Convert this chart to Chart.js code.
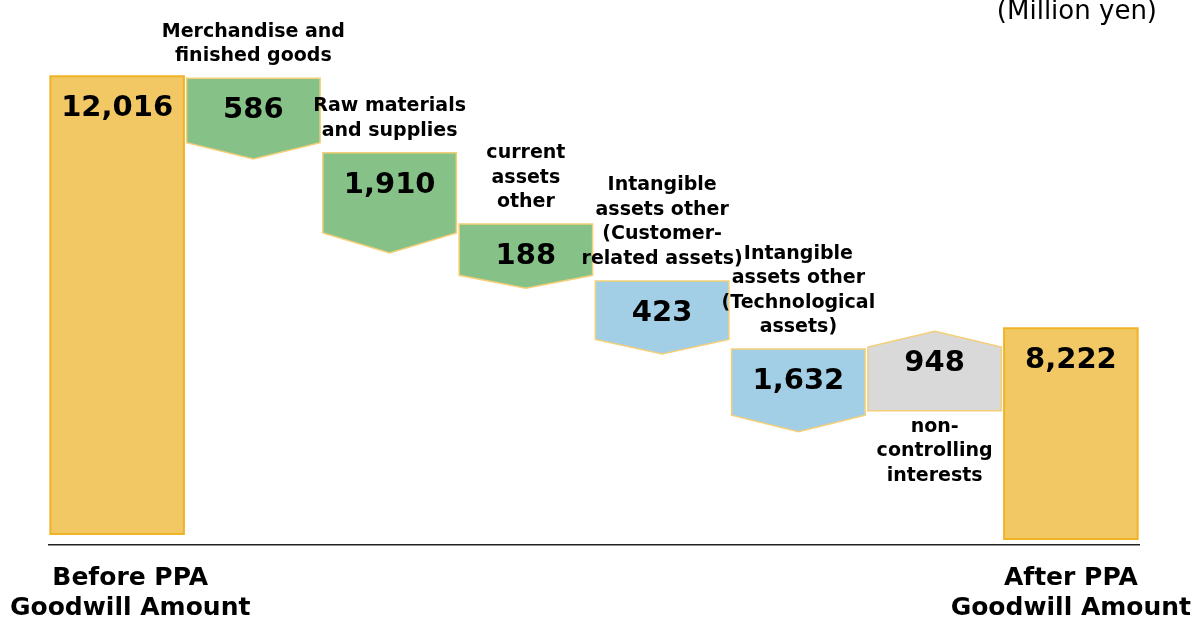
<!DOCTYPE html>
<html>
<head>
<meta charset="utf-8">
<script src="https://cdn.jsdelivr.net/npm/chart.js@4"></script>
<style>
  html, body { margin: 0; padding: 0; background: #fff; }
  #wrap { width: 1198px; height: 622px; }
</style>
</head>
<body>
<div id="wrap"><canvas id="PpaChart" width="1198" height="622"></canvas></div>
<script>
// categories, one array of lines per bar
const categoryLines = [
  ['Before PPA', 'Goodwill Amount'],
  ['Merchandise and', 'finished goods'],
  ['Raw materials', 'and supplies'],
  ['current', 'assets', 'other'],
  ['Intangible', 'assets other', '(Customer-', 'related assets)'],
  ['Intangible', 'assets other', '(Technological', 'assets)'],
  ['non-', 'controlling', 'interests'],
  ['After PPA', 'Goodwill Amount']
];

// amounts shown on the bars (million yen), negative = decrease
const amounts = [12016, -586, -1910, -188, -423, -1632, 948, 8222];
const isTotal = [true, false, false, false, false, false, false, true];

// the original slide is not drawn to scale, so these are the extents
// as they appear in the picture (same units as the 12,016 bar)
const barLow  = [290, 10130, 7660, 6740, 5010, 2970, 3520, 160];
const barHigh = [12300, 12250, 10290, 8420, 6930, 5140, 5610, 5690];

const fillColors = ['#f2c864', '#86c287', '#86c287', '#86c287', '#a3cfe6', '#a3cfe6', '#d9d9d9', '#f2c864'];

const FONT = "'DejaVu Sans', Verdana, sans-serif";
const tipRatio = 0.2;

const shapePlugin = {
  id: 'arrowShapes',
  afterDatasetsDraw(chart) {
    const ctx = chart.ctx;
    const meta = chart.getDatasetMeta(0);
    const area = chart.chartArea;
    ctx.save();
    meta.data.forEach((bar, i) => {
      const p = bar.getProps(['x', 'y', 'base', 'width'], true);
      const left = p.x - p.width / 2;
      const right = p.x + p.width / 2;
      const top = Math.min(p.y, p.base);
      const bottom = Math.max(p.y, p.base);
      const tip = (bottom - top) * tipRatio;

      ctx.beginPath();
      if (isTotal[i]) {
        ctx.rect(left, top, right - left, bottom - top);
      } else if (amounts[i] < 0) {
        ctx.moveTo(left, top);
        ctx.lineTo(right, top);
        ctx.lineTo(right, bottom - tip);
        ctx.lineTo(p.x, bottom);
        ctx.lineTo(left, bottom - tip);
      } else {
        ctx.moveTo(p.x, top);
        ctx.lineTo(right, top + tip);
        ctx.lineTo(right, bottom);
        ctx.lineTo(left, bottom);
        ctx.lineTo(left, top + tip);
      }
      ctx.closePath();
      ctx.fillStyle = fillColors[i];
      ctx.fill();
      ctx.strokeStyle = isTotal[i] ? '#efb325' : '#f4cf78';
      ctx.lineWidth = isTotal[i] ? 2 : 1.5;
      ctx.stroke();

      // value on the bar
      ctx.fillStyle = '#000';
      ctx.textAlign = 'center';
      ctx.textBaseline = 'alphabetic';
      ctx.font = 'bold 29px ' + FONT;
      ctx.fillText(Math.abs(amounts[i]).toLocaleString('en-US'), p.x, top + 40);

      // category names
      const lines = categoryLines[i];
      if (isTotal[i]) {
        // under the axis, kept inside the canvas
        ctx.font = 'bold 25px ' + FONT;
        const half = Math.max(...lines.map(t => ctx.measureText(t).width)) / 2;
        let cx = Math.max(p.x, half + 10);
        cx = Math.min(cx, chart.width - half - 3);
        lines.forEach((t, k) => {
          ctx.fillText(t, cx, area.bottom + 40 + k * 30);
        });
      } else {
        ctx.font = 'bold 19px ' + FONT;
        const lh = 24.5;
        if (amounts[i] < 0) {
          lines.forEach((t, k) => {
            ctx.fillText(t, p.x, top - 17 - (lines.length - 1 - k) * lh);
          });
        } else {
          lines.forEach((t, k) => {
            ctx.fillText(t, p.x, bottom + 21 + k * lh);
          });
        }
      }
    });

    // unit
    ctx.font = '26px ' + FONT;
    ctx.textAlign = 'right';
    ctx.fillText('(Million yen)', 1157, 19);
    ctx.restore();
  }
};

new Chart(document.getElementById('PpaChart'), {
  type: 'bar',
  data: {
    labels: categoryLines,
    datasets: [{
      data: barLow.map((lo, i) => [lo, barHigh[i]]),
      backgroundColor: 'rgba(0,0,0,0)',
      borderWidth: 0,
      barPercentage: 0.98,
      categoryPercentage: 1
    }]
  },
  options: {
    responsive: false,
    animation: false,
    events: [],
    layout: {
      padding: { left: 49, right: 59, top: 0, bottom: 77 }
    },
    plugins: {
      legend: { display: false },
      tooltip: { enabled: false }
    },
    scales: {
      x: {
        grid: { display: false, drawTicks: false },
        ticks: { display: false },
        border: { display: true, color: '#222', width: 1.5 }
      },
      y: {
        display: false,
        min: 0,
        max: 14300
      }
    }
  },
  plugins: [shapePlugin]
});
</script>
</body>
</html>
